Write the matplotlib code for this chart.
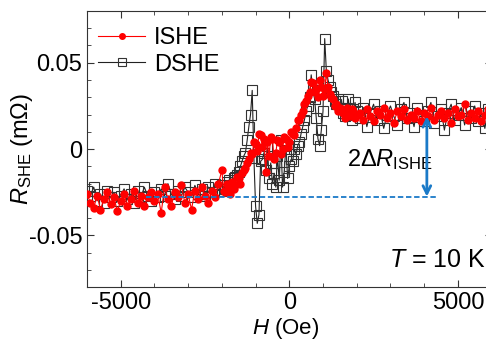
import numpy as np
import matplotlib
matplotlib.use('Agg')
import matplotlib.pyplot as plt
from matplotlib.ticker import MultipleLocator, FuncFormatter

plt.rcParams['font.family'] = ['Liberation Sans', 'DejaVu Sans']
plt.rcParams['mathtext.fontset'] = 'custom'
plt.rcParams['mathtext.rm'] = 'Liberation Sans'
plt.rcParams['mathtext.it'] = 'Liberation Sans:italic'
plt.rcParams['axes.unicode_minus'] = False
plt.rcParams['font.size'] = 17

# field sweep (Oe): 100 Oe steps outside, 50 Oe steps in the switching region
H = [-6000, -5900, -5800, -5700, -5600, -5500, -5400, -5300, -5200, -5100,
     -5000, -4900, -4800, -4700, -4600, -4500, -4400, -4300, -4200, -4100,
     -4000, -3900, -3800, -3700, -3600, -3500, -3400, -3300, -3200, -3100,
     -3000, -2900, -2800, -2700, -2600, -2500, -2400, -2300, -2200, -2100,
     -2000, -1950, -1900, -1850, -1800, -1750, -1700, -1650, -1600, -1550,
     -1500, -1450, -1400, -1350, -1300, -1250, -1200, -1150, -1100, -1050,
     -1000, -950, -900, -850, -800, -750, -700, -650, -600, -550,
     -500, -450, -400, -350, -300, -250, -200, -150, -100, -50,
     0, 50, 100, 150, 200, 250, 300, 350, 400, 450,
     500, 550, 600, 650, 700, 750, 800, 850, 900, 950,
     1000, 1050, 1100, 1150, 1200, 1250, 1300, 1350, 1400, 1450,
     1500, 1550, 1600, 1650, 1700, 1750, 1800, 1850, 1900, 1950,
     2000, 2100, 2200, 2300, 2400, 2500, 2600, 2700, 2800, 2900,
     3000, 3100, 3200, 3300, 3400, 3500, 3600, 3700, 3800, 3900,
     4000, 4100, 4200, 4300, 4400, 4500, 4600, 4700, 4800, 4900,
     5000, 5100, 5200, 5300, 5400, 5500, 5600, 5700, 5800, 5900,
     6000]

# R_SHE (mOhm)
ishe = [-0.026, -0.031, -0.034, -0.027, -0.035, -0.029, -0.025, -0.032, -0.028, -0.036,
        -0.030, -0.026, -0.033, -0.029, -0.024, -0.031, -0.027, -0.033, -0.028, -0.025,
        -0.030, -0.026, -0.037, -0.022, -0.029, -0.033, -0.025, -0.028, -0.021, -0.031,
        -0.026, -0.035, -0.024, -0.029, -0.022, -0.027, -0.031, -0.024, -0.028, -0.020,
        -0.012, -0.024, -0.025, -0.020, -0.022, -0.026, -0.019, -0.023, -0.021, -0.016,
        -0.017, -0.020, -0.014, -0.012, -0.011, -0.008, -0.006, -0.002, -0.003, 0.004,
        0.003, -0.001, 0.009, 0.008, 0.001, 0.006, -0.013, 0.004, -0.004, 0.007,
        0.006, -0.006, -0.002, 0.005, 0.004, -0.003, 0.000, 0.007, 0.006, 0.001,
        0.004, 0.010, 0.009, 0.008, 0.012, 0.017, 0.017, 0.020, 0.022, 0.026,
        0.028, 0.031, 0.033, 0.039, 0.038, 0.033, 0.035, 0.030, 0.040, 0.036,
        0.031, 0.035, 0.044, 0.036, 0.032, 0.030, 0.029, 0.025, 0.026, 0.022,
        0.024, 0.023, 0.021, 0.018, 0.024, 0.020, 0.019, 0.023, 0.022, 0.018,
        0.020, 0.021, 0.017, 0.023, 0.019, 0.016, 0.022, 0.020, 0.024, 0.018,
        0.021, 0.015, 0.022, 0.019, 0.023, 0.017, 0.020, 0.018, 0.022, 0.016,
        0.021, 0.019, 0.024, 0.017, 0.020, 0.022, 0.018, 0.021, 0.015, 0.023,
        0.019, 0.020, 0.026, 0.017, 0.021, 0.018, 0.022, 0.016, 0.020, 0.023,
        0.018]

dshe = [-0.024, -0.027, -0.022, -0.030, -0.026, -0.031, -0.024, -0.028, -0.025, -0.030,
        -0.027, -0.023, -0.029, -0.026, -0.031, -0.024, -0.028, -0.022, -0.027, -0.030,
        -0.025, -0.028, -0.023, -0.027, -0.020, -0.026, -0.029, -0.024, -0.027, -0.022,
        -0.025, -0.028, -0.021, -0.026, -0.023, -0.027, -0.022, -0.025, -0.020, -0.024,
        -0.021, -0.024, -0.023, -0.019, -0.018, -0.022, -0.021, -0.017, -0.016, -0.015,
        -0.013, -0.010, -0.007, -0.004, -0.002, 0.005, 0.013, 0.020, 0.034, -0.005,
        -0.033, -0.043, -0.038, -0.007, -0.006, -0.002, -0.012, 0.002, -0.017, -0.008,
        -0.020, -0.014, -0.022, -0.004, -0.018, 0.005, -0.022, -0.013, 0.002, -0.017,
        -0.010, -0.006, -0.007, 0.000, -0.003, 0.002, 0.004, 0.009, 0.013, 0.017,
        0.022, 0.025, 0.030, 0.043, 0.034, 0.029, 0.018, 0.006, 0.002, 0.011,
        0.022, 0.064, 0.045, 0.040, 0.036, 0.033, 0.031, 0.028, 0.026, 0.029,
        0.024, 0.028, 0.021, 0.019, 0.024, 0.029, 0.020, 0.017, 0.023, 0.027,
        0.022, 0.018, 0.024, 0.013, 0.021, 0.026, 0.017, 0.022, 0.012, 0.020,
        0.025, 0.019, 0.014, 0.023, 0.027, 0.018, 0.021, 0.013, 0.024, 0.020,
        0.016, 0.022, 0.027, 0.015, 0.019, 0.023, 0.011, 0.021, 0.026, 0.017,
        0.020, 0.024, 0.014, 0.022, 0.018, 0.025, 0.016, 0.021, 0.012, 0.023,
        0.019]

blue = '#1a7ac8'
arrow_H = 4080
low_level = -0.0275
high_level = 0.019

fig = plt.figure(figsize=(4.86, 3.42), dpi=100)
ax = fig.add_axes([0.179, 0.160, 0.8325, 0.808])

l2, = ax.plot(H, dshe, color='#222222', lw=0.8, marker='s', ms=7,
              mfc='none', mec='#333333', mew=0.8, label='DSHE', zorder=2)
l1, = ax.plot(H, ishe, color='red', lw=0.8, marker='o', ms=5,
              mfc='red', mec='red', label='ISHE', zorder=3)

ax.plot([-4250, 4420], [low_level, low_level], color=blue, lw=1.3,
        ls=(0, (3, 1.5)), zorder=4)
ax.annotate('', xy=(arrow_H, high_level), xytext=(arrow_H, low_level),
            arrowprops=dict(arrowstyle='<->', color=blue, lw=2,
                            mutation_scale=14, shrinkA=0, shrinkB=0), zorder=5)
ax.text(1700, -0.0062, r'2$\mathit{\Delta R}_{\mathrm{ISHE}}$', ha='left',
        va='center', fontsize=17)
ax.text(5830, -0.0641, r'$T$ = 10 K', ha='right', va='center', fontsize=18)

ax.set_xlim(-6000, 6000)
ax.set_ylim(-0.08, 0.08)
ax.xaxis.set_major_locator(MultipleLocator(5000))
ax.xaxis.set_minor_locator(MultipleLocator(1000))
ax.yaxis.set_major_locator(MultipleLocator(0.05))
ax.yaxis.set_minor_locator(MultipleLocator(0.01))
ax.yaxis.set_major_formatter(FuncFormatter(lambda v, p: '0' if abs(v) < 1e-9 else '%g' % v))
ax.xaxis.set_major_formatter(FuncFormatter(lambda v, p: '%d' % v))
ax.tick_params(which='both', direction='in', top=True, right=True, labelsize=17,
               color='#333333')
ax.tick_params(which='major', length=5)
ax.tick_params(which='minor', length=3)
for s in ax.spines.values():
    s.set_color('#333333')

ax.set_xlabel(r'$H$ (Oe)', fontsize=16)
ax.xaxis.set_label_coords(0.49, -0.105)
ax.xaxis.label.set_va('top')
ax.set_ylabel(r'$R_{\mathrm{SHE}}$ (m$\Omega$)', fontsize=17)
ax.yaxis.set_label_coords(-0.128, 0.5)

ax.legend(handles=[l1, l2], loc='upper left', bbox_to_anchor=(0.004, 0.975),
          frameon=False, fontsize=17, handlelength=2.0, handletextpad=0.38,
          labelspacing=0.18, borderaxespad=0.0, markerscale=0.8)

fig.savefig('out.png', dpi=100)
